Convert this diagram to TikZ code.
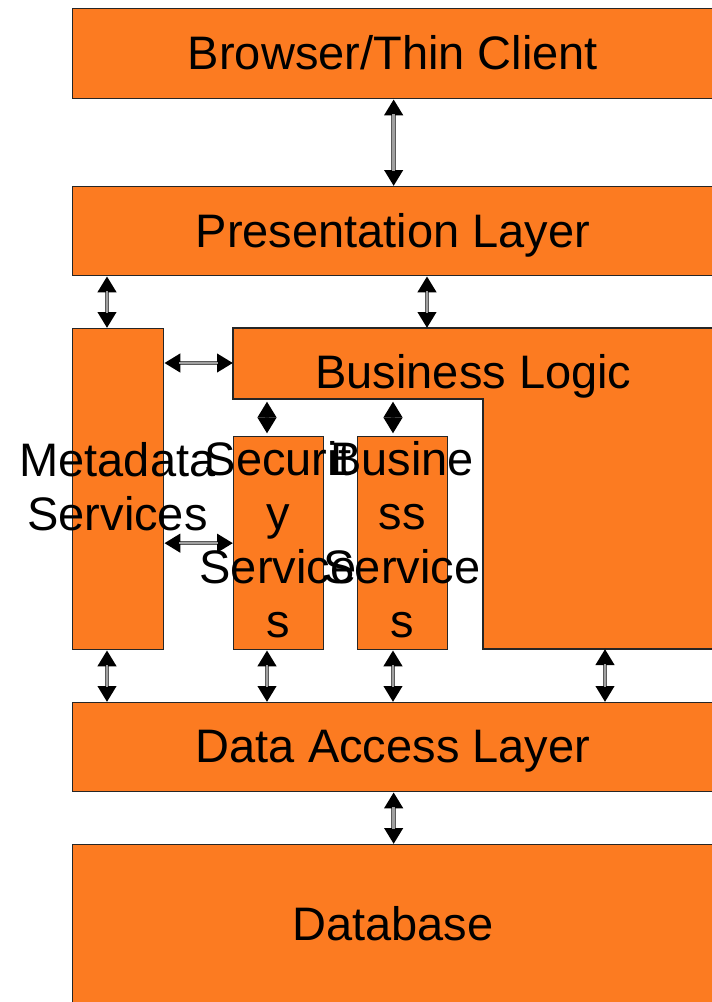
\documentclass[tikz,border=0pt]{standalone}
\usepackage{fontspec}
\setmainfont{Liberation Sans}
\usetikzlibrary{arrows.meta}
\definecolor{boxorange}{HTML}{FC7B21}
\definecolor{linkgray}{HTML}{A0A0A0}
\definecolor{linkedge}{HTML}{5A5A5A}
\begin{document}
\begin{tikzpicture}[x=1pt,y=-1pt,
  box/.style={draw=black!85,line width=1.3pt,fill=boxorange,inner sep=0pt,anchor=north west},
  lbl/.style={font=\fontsize{47}{54}\selectfont,align=center,inner sep=0pt,anchor=base},
  arrbase/.style={draw=linkedge,line width=4.6pt,
    {Triangle[length=16pt,width=18pt,color=black]}-{Triangle[length=16pt,width=18pt,color=black]}},
  arr/.style={arrbase,postaction={draw=linkgray,line width=2.6pt,-,shorten <=15pt,shorten >=15pt}},
  diam/.style={arrbase,shorten <=2.5pt,shorten >=2.5pt}]
\useasboundingbox (0,0) rectangle (712,1002);
\clip (0,0) rectangle (712,1002);
% boxes
\node[box,minimum width=642pt,minimum height=90pt] (browser) at (72,8) {};
\node[box,minimum width=642pt,minimum height=89pt] (pres) at (72,186) {};
\node[box,minimum width=91pt,minimum height=321pt] (meta) at (72,328) {};
\filldraw[draw=black!85,line width=1.3pt,fill=boxorange]
  (233,328) coordinate (blNW) -- (714,328) -- (714,649) -- (483,649) -- (483,399) -- (233,399) -- cycle;
\node[box,minimum width=90pt,minimum height=213pt] (sec) at (233,436) {};
\node[box,minimum width=90pt,minimum height=213pt] (bsv) at (357,436) {};
\node[box,minimum width=642pt,minimum height=89pt] (da) at (72,702) {};
\node[box,minimum width=642pt,minimum height=170pt] (db) at (72,844) {};
% named points on the Business Logic shape and connector columns
\coordinate (blTop) at (427,328);
\coordinate (blW) at (233,363);
\coordinate (blS1) at (267,399);
\coordinate (blS2) at (393,399);
\coordinate (blBot) at (605,649);
\coordinate (cM) at (107,0);
% labels (base = baseline of the last line)
\node[lbl] (browserT) at (393,69) {Browser/Thin Client};
\node[lbl] (presT) at (393,247) {Presentation Layer};
\node[lbl] (blT) at (473.5,388) {Business Logic};
\node[lbl] (metaT) at (117.5,530) {Metadata\\Services};
\node[lbl] (secT) at (278,637) {Securit\\y\\Service\\s};
\node[lbl] (bsvT) at (402,637) {Busine\\ss\\Service\\s};
\node[lbl] (daT) at (393,762) {Data Access Layer};
\node[lbl] (dbT) at (393,940) {Database};
% connectors
\draw[arr] (browser.south) -- (pres.north);
\draw[arr] (pres.south -| cM) -- (meta.north -| cM);
\draw[arr] (pres.south -| blTop) -- (blTop);
\draw[arr] (meta.east |- blW) -- (blW);
\draw[arr] (meta.east |- sec.west) -- (sec.west);
\draw[diam] (blS1) -- (sec.north -| blS1);
\draw[diam] (blS2) -- (bsv.north -| blS2);
\draw[arr] (meta.south -| cM) -- (da.north -| cM);
\draw[arr] (sec.south -| blS1) -- (da.north -| blS1);
\draw[arr] (bsv.south -| blS2) -- (da.north -| blS2);
\draw[arr] (blBot) -- (da.north -| blBot);
\draw[arr] (da.south) -- (db.north);
\end{tikzpicture}
\end{document}
